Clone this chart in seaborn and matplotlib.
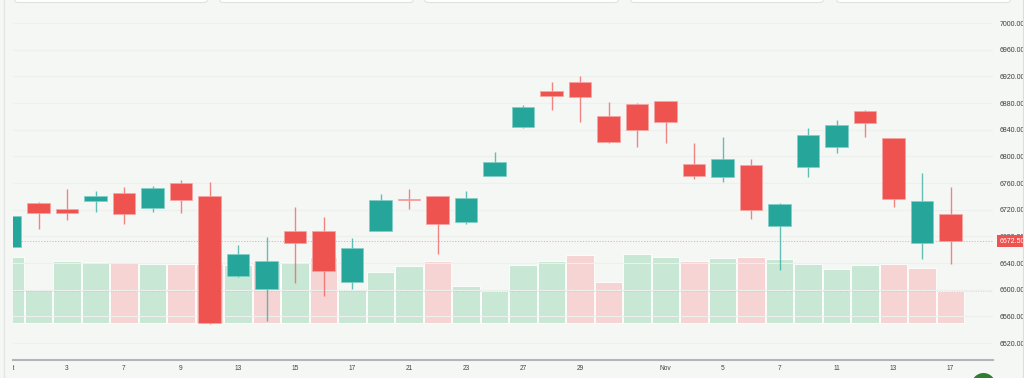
"""
Candlestick chart with volume, Oct 1 - Nov 17
"""
import matplotlib
matplotlib.use("Agg")
import matplotlib.pyplot as plt
import matplotlib.transforms as mtransforms
from matplotlib.patches import FancyBboxPatch, Ellipse
from matplotlib.lines import Line2D
import numpy as np
import seaborn as sns

dates = [
    "Oct 1", "Oct 2", "Oct 3", "Oct 6", "Oct 7", "Oct 8", "Oct 9", "Oct 10",
    "Oct 13", "Oct 14", "Oct 15", "Oct 16", "Oct 17", "Oct 20", "Oct 21",
    "Oct 22", "Oct 23", "Oct 24", "Oct 27", "Oct 28", "Oct 29", "Oct 30",
    "Oct 31", "Nov 3", "Nov 4", "Nov 5", "Nov 6", "Nov 7", "Nov 10",
    "Nov 11", "Nov 12", "Nov 13", "Nov 14", "Nov 17",
]
opens = [6664, 6730, 6721.5, 6732.5, 6745.5, 6722.5, 6760.5, 6740.5,
         6620, 6600.5, 6687.5, 6688, 6611.5, 6688.5, 6736, 6740.5,
         6701.5, 6771, 6844.5, 6897.5, 6911.5, 6860.5, 6879, 6882.5,
         6788, 6768.5, 6787.5, 6695, 6784.5, 6814.5, 6868, 6827,
         6670.5, 6713]
highs = [6712, 6731, 6750.5, 6748.5, 6753.5, 6755.5, 6764.5, 6762,
         6667, 6679.5, 6723.5, 6708.5, 6677.5, 6743.5, 6751, 6741,
         6748.5, 6806, 6877, 6912, 6920.5, 6881, 6880, 6883,
         6819.5, 6829.5, 6795.5, 6729.5, 6842, 6854.5, 6869.5, 6828,
         6774.5, 6753.5]
lows = [6662, 6691, 6704, 6716.5, 6698.5, 6716, 6714.5, 6548.5,
        6618.5, 6553.5, 6609.5, 6591, 6601.5, 6688, 6721, 6653.5,
        6698.5, 6770, 6843, 6869.5, 6851, 6819.5, 6814, 6819.5,
        6766, 6762, 6706, 6629.5, 6769.5, 6805.5, 6829.5, 6724.5,
        6645.5, 6638.5]
closes = [6710.5, 6714.5, 6715, 6740.5, 6713.5, 6753, 6734, 6550.5,
          6653.5, 6643, 6669.5, 6627.5, 6663, 6734.5, 6735, 6698.5,
          6737.5, 6791.5, 6874.5, 6890.5, 6889.5, 6821.5, 6839.5, 6851,
          6770, 6795.5, 6719, 6728, 6831.5, 6846.5, 6850.5, 6736,
          6732.5, 6672.5]
volumes = [660, 330, 623, 610, 603, 590, 590, 590, 580, 623, 616, 660,
           333, 510, 573, 623, 376, 326, 580, 623, 683, 413, 693, 660,
           626, 650, 660, 643, 590, 546, 580, 596, 553, 326]

tick_idx = [2, 4, 6, 8, 10, 12, 14, 16, 18, 20, 23, 25, 27, 29, 31, 33]
tick_labels = ["3", "7", "9", "13", "15", "17", "21", "23", "27", "29",
               "Nov", "5", "7", "11", "13", "17"]
price_ticks = list(range(6520, 7001, 40))
last_price = closes[-1]

UP, DOWN = "#26a69a", "#ef5350"
VOL_UP, VOL_DOWN = "#c9e7d5", "#f6d4d4"
BG = "#f5f7f5"

sns.set_theme(style="white")
plt.rcParams["font.family"] = ["Liberation Sans", "DejaVu Sans"]

W, H = 1024, 378
fig = plt.figure(figsize=(W / 100, H / 100), dpi=100, facecolor=BG)
# plot area in pixels: x 13..993, y 0..360 from the top
ax_vol = fig.add_axes([13 / W, 18 / H, 980 / W, 360 / H])
ax_vol.set_facecolor(BG)
ax = ax_vol.twinx()

idx = np.arange(len(dates))
o, h, l, c = map(np.array, (opens, highs, lows, closes))
vol_dir = ["up"] + ["up" if c[i] >= c[i - 1] else "down" for i in range(1, len(c))]

# volume
sns.barplot(x=idx, y=volumes, hue=vol_dir, palette={"up": VOL_UP, "down": VOL_DOWN},
            native_scale=True, dodge=False, width=0.95, errorbar=None,
            saturation=1, edgecolor="white", linewidth=0.6, legend=False, ax=ax_vol)
vol_zero_frac = (360 - 323.3) / 360
vol_span = 3600
ax_vol.set_ylim(-vol_zero_frac * vol_span, (1 - vol_zero_frac) * vol_span)
ax_vol.axhline(volumes[-1], color=DOWN, ls=(0, (1, 1.5)), lw=0.7, alpha=0.25)
ax_vol.set_yticks([])
ax_vol.set_ylabel("")
ax_vol.set_xlabel("")

# candles
up = c >= o
col = np.where(up, UP, DOWN)
ax.vlines(idx, l, h, colors=col, lw=1, alpha=0.7, zorder=2)
ax.bar(idx, np.maximum(np.abs(c - o), 0.8), bottom=np.minimum(o, c), width=0.79,
       color=col, edgecolor=np.where(up, "#7fd0c7", "#f7a5a3"), linewidth=0.5, zorder=3)

ax.set_ylim(7000 - (360 - 23) * 1.5, 7000 + 23 * 1.5)
ax.set_xlim(0.105, 34.49)
ax.set_yticks(price_ticks)
ax.set_yticklabels([f"{v:.2f}" for v in price_ticks])
ax.grid(axis="y", color="#edf0ed", lw=0.8)
ax.set_axisbelow(True)
ax.tick_params(axis="y", length=0, pad=4.5, labelsize=5, labelcolor="#3a3a3a")
ax.axhline(last_price, color=DOWN, ls=(0, (1, 1.5)), lw=0.8, alpha=0.45, zorder=1)

ax.text(1.0, last_price, f"{last_price:.2f}", fontsize=5, color="white",
        ha="left", va="center", zorder=10,
        transform=mtransforms.blended_transform_factory(ax.transAxes, ax.transData)
        + mtransforms.ScaledTranslation(6.5 / 100, 0, fig.dpi_scale_trans),
        bbox=dict(boxstyle="square,pad=0.35", fc=DOWN, ec="none"))

for a in (ax, ax_vol):
    for s in ("top", "left", "right"):
        a.spines[s].set_visible(False)
ax.spines["bottom"].set_visible(False)
ax_vol.spines["bottom"].set_color("#b2b5be")
ax_vol.spines["bottom"].set_linewidth(1.5)

ax_vol.set_xticks(tick_idx)
ax_vol.set_xticklabels(tick_labels)
ax_vol.tick_params(axis="x", length=0, pad=3.5, labelsize=4.8, labelcolor="#444444")

# month label cut by the left edge of the plot
oct_lbl = ax_vol.text(0, -0.0235, "Oct", fontsize=4.8, color="#444444", ha="center", va="center",
                      transform=mtransforms.blended_transform_factory(ax_vol.transData, ax_vol.transAxes))
oct_lbl.set_clip_box(mtransforms.TransformedBbox(mtransforms.Bbox([[0, -1], [1, 1]]), ax_vol.transAxes))
oct_lbl.set_clip_on(True)

# toolbar boxes peeking in at the top
for x0, x1 in [(15, 207), (220, 413), (425, 618), (631, 823), (837, 1010)]:
    fig.patches.append(FancyBboxPatch((x0 / W, (H - 2.5) / H), (x1 - x0) / W, 20 / H,
                                      boxstyle="round,pad=0,rounding_size=0.004",
                                      fc="white", ec="#dfe2df", lw=0.8,
                                      transform=fig.transFigure, figure=fig))
fig.lines.append(Line2D([3.5 / W, 3.5 / W], [0, 1], color="#e2e5e2", lw=1,
                        transform=fig.transFigure, figure=fig))
fig.lines.append(Line2D([1022.5 / W, 1022.5 / W], [0, 1], color="#dcdfdc", lw=0.8,
                        transform=fig.transFigure, figure=fig))
fig.patches.append(Ellipse((983.5 / W, (H - 385) / H), 24 / W, 24 / H, fc="#2e7d32",
                           ec="none", transform=fig.transFigure, figure=fig))

fig.savefig("out.png", dpi=100, facecolor=BG)
